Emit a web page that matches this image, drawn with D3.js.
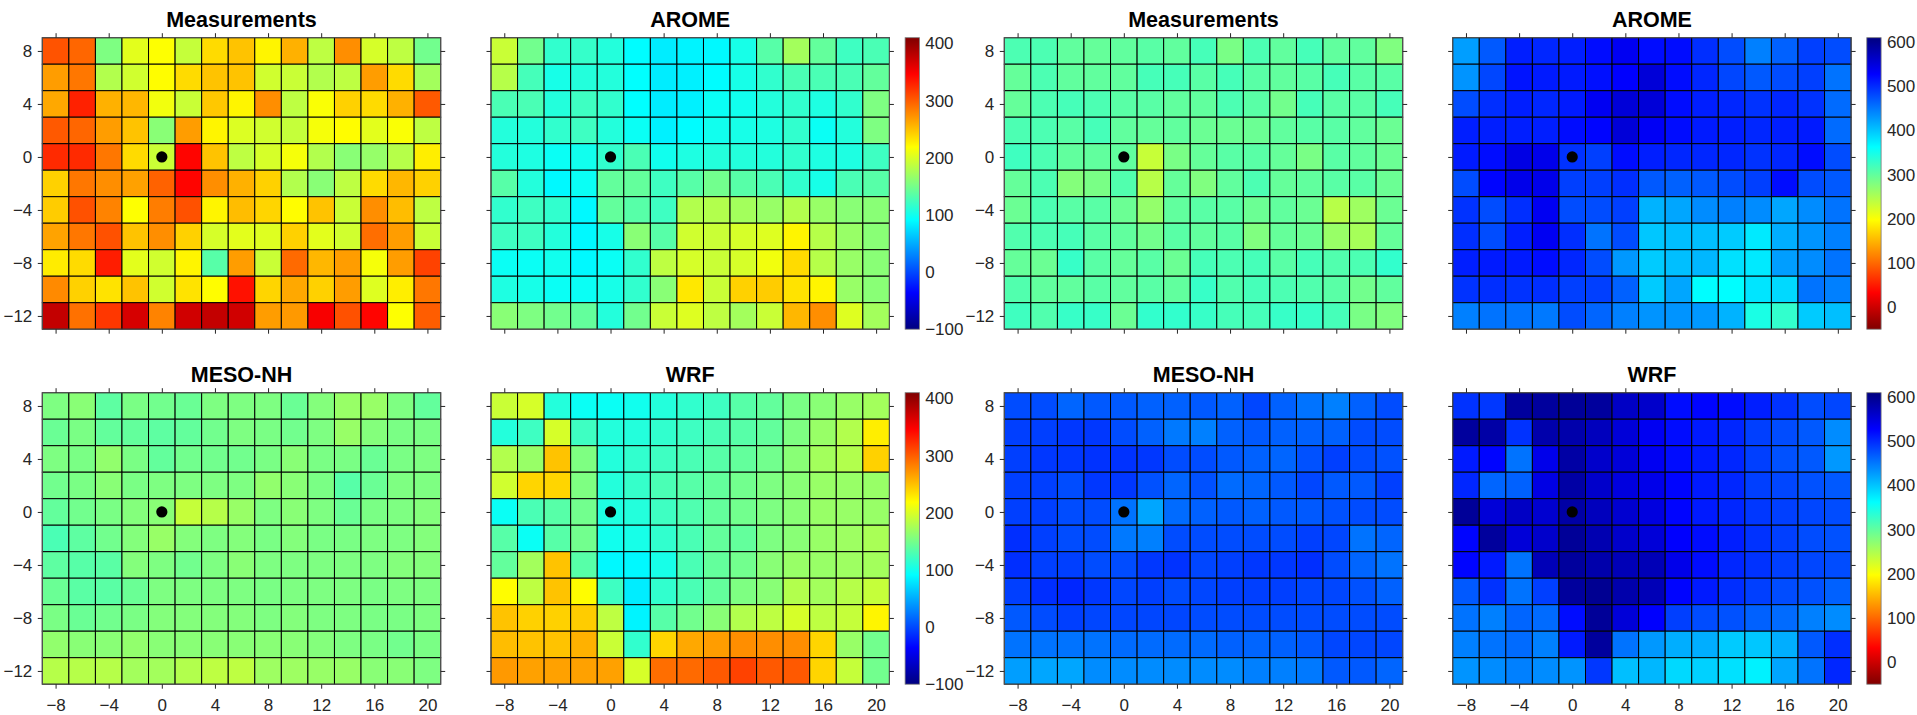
<!DOCTYPE html>
<html>
<head>
<meta charset="utf-8">
<script src="https://cdn.jsdelivr.net/npm/d3@7"></script>
<style>
  html, body { margin: 0; padding: 0; background: #ffffff; }
  svg { display: block; font-family: "Liberation Sans", Arial, Helvetica, sans-serif; }
</style>
</head>
<body>
<svg id="chart" width="1917" height="715"></svg>
<script>
// Grid coordinates (cell centres)
const xCats = [-8, -6, -4, -2, 0, 2, 4, 6, 8, 10, 12, 14, 16, 18, 20];
const yCats = [8, 6, 4, 2, 0, -2, -4, -6, -8, -10, -12];

// Tick labels
const xTicks = [-8, -4, 0, 4, 8, 12, 16, 20];
const yTicks = [-12, -8, -4, 0, 4, 8];
const barTicksLeft = [-100, 0, 100, 200, 300, 400];
const barTicksRight = [0, 100, 200, 300, 400, 500, 600];

// Colour limits
const climLeft = [-100, 410];
const climRight = [-50, 610];

// Panel titles
const titles = ["Measurements", "AROME", "MESO-NH", "WRF"];

// Left group (rows run from y = 8 down to y = -12)
const measLeft = [
  [305, 295, 154, 205, 218, 190, 237, 249, 224, 258, 186, 275, 198, 186, 148],
  [268, 287, 180, 195, 220, 237, 249, 249, 195, 192, 180, 186, 268, 237, 173],
  [262, 330, 258, 255, 212, 192, 246, 224, 275, 186, 216, 242, 237, 258, 302],
  [302, 295, 268, 249, 160, 268, 224, 201, 195, 190, 214, 220, 205, 216, 186],
  [325, 325, 287, 237, 192, 344, 249, 186, 198, 214, 180, 160, 166, 182, 227],
  [242, 287, 275, 266, 297, 344, 275, 258, 242, 180, 160, 186, 237, 255, 242],
  [244, 306, 281, 218, 284, 306, 224, 252, 240, 220, 249, 192, 275, 252, 186],
  [265, 287, 306, 249, 275, 242, 198, 205, 202, 242, 205, 195, 291, 268, 192],
  [228, 237, 332, 205, 195, 224, 135, 268, 192, 293, 255, 268, 214, 268, 313],
  [277, 242, 233, 249, 195, 233, 220, 338, 240, 262, 242, 268, 202, 227, 287],
  [376, 290, 319, 367, 281, 370, 376, 370, 268, 270, 350, 306, 344, 218, 300]
];
const aromeLeft = [
  [192, 148, 116, 118, 109, 90, 82, 86, 88, 103, 135, 173, 141, 122, 128],
  [182, 126, 103, 109, 109, 92, 82, 84, 90, 103, 116, 128, 128, 128, 141],
  [128, 128, 109, 122, 116, 91, 82, 84, 96, 100, 109, 116, 106, 116, 154],
  [109, 109, 116, 122, 109, 96, 84, 90, 100, 103, 106, 116, 96, 109, 154],
  [109, 106, 96, 100, 116, 128, 100, 106, 109, 109, 109, 116, 106, 106, 122],
  [135, 109, 88, 96, 141, 141, 122, 135, 148, 135, 128, 116, 103, 128, 135],
  [116, 122, 116, 88, 141, 135, 122, 180, 180, 173, 167, 180, 167, 160, 160],
  [122, 122, 109, 88, 103, 160, 135, 195, 192, 198, 202, 224, 182, 167, 160],
  [96, 96, 100, 88, 96, 116, 186, 198, 192, 198, 212, 237, 182, 167, 160],
  [106, 103, 96, 96, 103, 116, 160, 230, 192, 242, 244, 233, 224, 167, 160],
  [160, 154, 148, 141, 109, 148, 192, 202, 186, 173, 192, 255, 275, 202, 173]
];
const mesonhLeft = [
  [154, 160, 138, 152, 148, 144, 154, 154, 154, 144, 157, 167, 167, 154, 141],
  [144, 152, 141, 141, 138, 141, 148, 154, 152, 148, 154, 167, 157, 152, 152],
  [154, 152, 164, 152, 141, 148, 148, 148, 152, 160, 152, 152, 144, 152, 154],
  [148, 152, 160, 152, 154, 154, 154, 154, 164, 160, 152, 135, 144, 154, 154],
  [141, 148, 152, 157, 160, 190, 182, 167, 154, 160, 154, 144, 152, 154, 157],
  [128, 138, 148, 157, 167, 157, 154, 157, 152, 157, 152, 152, 154, 154, 157],
  [138, 135, 136, 157, 154, 148, 154, 160, 154, 154, 154, 154, 154, 157, 157],
  [144, 136, 136, 144, 154, 154, 154, 154, 152, 154, 154, 154, 152, 154, 154],
  [152, 144, 148, 152, 157, 157, 157, 157, 154, 157, 154, 154, 152, 152, 154],
  [164, 160, 160, 164, 160, 160, 160, 160, 160, 160, 157, 154, 152, 148, 152],
  [182, 182, 182, 173, 173, 180, 186, 186, 170, 170, 167, 167, 160, 160, 154]
];
const wrfLeft = [
  [192, 198, 109, 96, 96, 100, 109, 116, 122, 135, 141, 152, 160, 167, 173],
  [109, 122, 198, 122, 109, 109, 116, 122, 128, 135, 141, 154, 167, 180, 227],
  [180, 167, 249, 154, 109, 116, 122, 128, 135, 141, 148, 160, 173, 180, 242],
  [195, 240, 240, 154, 109, 118, 128, 135, 141, 148, 154, 160, 167, 167, 167],
  [96, 128, 135, 148, 106, 109, 122, 131, 141, 148, 154, 160, 167, 167, 167],
  [135, 96, 135, 148, 100, 103, 116, 128, 141, 141, 154, 160, 167, 170, 176],
  [141, 173, 249, 135, 88, 88, 103, 128, 141, 148, 160, 167, 167, 170, 173],
  [220, 186, 249, 220, 122, 82, 116, 128, 141, 154, 160, 180, 173, 182, 190],
  [249, 242, 242, 244, 186, 86, 135, 148, 160, 180, 186, 198, 186, 190, 224],
  [252, 249, 249, 258, 192, 116, 240, 262, 268, 275, 275, 275, 240, 167, 148],
  [270, 266, 266, 266, 266, 198, 291, 293, 302, 313, 302, 302, 240, 190, 148]
];

// Right group (rows run from y = 8 down to y = -12)
const measRight = [
  [313, 313, 300, 297, 300, 305, 300, 317, 284, 313, 300, 317, 300, 300, 280],
  [297, 313, 300, 300, 300, 317, 317, 305, 317, 305, 300, 305, 317, 305, 305],
  [297, 313, 317, 313, 305, 305, 300, 300, 313, 305, 289, 317, 305, 305, 317],
  [313, 313, 305, 317, 300, 297, 300, 293, 293, 293, 300, 305, 305, 300, 293],
  [322, 313, 300, 300, 300, 234, 284, 297, 305, 305, 297, 284, 305, 300, 293],
  [297, 313, 277, 284, 310, 244, 297, 280, 300, 313, 297, 300, 305, 305, 293],
  [293, 313, 305, 305, 293, 267, 300, 305, 305, 293, 300, 293, 244, 260, 293],
  [310, 313, 317, 305, 300, 289, 305, 300, 305, 280, 297, 293, 264, 255, 297],
  [297, 293, 327, 305, 297, 305, 293, 317, 313, 317, 305, 317, 310, 313, 330],
  [310, 300, 300, 305, 300, 305, 300, 327, 310, 317, 313, 310, 305, 289, 300],
  [322, 310, 327, 327, 293, 330, 330, 327, 317, 317, 327, 327, 317, 284, 280]
];
const aromeRight = [
  [425, 470, 508, 503, 508, 520, 536, 520, 520, 498, 478, 445, 465, 487, 478],
  [432, 482, 515, 511, 511, 518, 528, 553, 520, 503, 482, 470, 478, 487, 453],
  [478, 498, 508, 503, 511, 536, 553, 553, 520, 508, 503, 495, 503, 495, 458],
  [508, 508, 508, 508, 520, 525, 553, 534, 520, 511, 508, 503, 508, 511, 458],
  [511, 520, 545, 541, 495, 487, 520, 508, 503, 503, 503, 495, 503, 520, 478],
  [478, 525, 541, 541, 487, 487, 498, 470, 465, 470, 478, 487, 520, 478, 470],
  [495, 478, 498, 536, 478, 478, 487, 412, 420, 437, 445, 437, 420, 437, 453],
  [498, 478, 508, 536, 498, 453, 478, 399, 404, 404, 396, 376, 415, 432, 445],
  [508, 511, 511, 520, 503, 478, 429, 396, 404, 409, 382, 376, 425, 437, 453],
  [495, 498, 495, 498, 487, 487, 465, 396, 420, 363, 363, 379, 387, 453, 445],
  [445, 453, 453, 449, 478, 462, 445, 432, 432, 429, 412, 346, 330, 396, 404]
];
const mesonhRight = [
  [478, 478, 462, 470, 470, 465, 465, 470, 465, 482, 465, 453, 445, 465, 478],
  [487, 487, 492, 492, 478, 465, 449, 445, 465, 470, 465, 465, 465, 478, 478],
  [487, 492, 492, 495, 495, 492, 478, 478, 470, 465, 462, 475, 487, 478, 475],
  [487, 487, 478, 492, 492, 475, 462, 475, 458, 462, 470, 482, 470, 470, 487],
  [487, 487, 478, 478, 453, 420, 458, 465, 470, 465, 470, 470, 475, 478, 478],
  [498, 487, 478, 478, 449, 445, 478, 478, 478, 478, 478, 487, 482, 453, 462],
  [498, 487, 487, 478, 478, 492, 495, 482, 487, 492, 492, 498, 478, 462, 453],
  [487, 498, 503, 492, 482, 487, 478, 482, 487, 487, 487, 482, 482, 475, 465],
  [470, 478, 487, 482, 482, 482, 482, 478, 478, 478, 478, 478, 478, 478, 478],
  [453, 453, 453, 453, 458, 458, 458, 458, 465, 462, 465, 470, 482, 482, 482],
  [425, 420, 420, 437, 437, 437, 437, 437, 437, 445, 445, 449, 470, 470, 462]
];
const wrfRight = [
  [495, 492, 591, 591, 594, 591, 565, 561, 520, 525, 520, 508, 495, 478, 482],
  [591, 585, 495, 582, 582, 570, 553, 536, 520, 511, 503, 487, 478, 470, 437],
  [511, 525, 453, 541, 586, 561, 553, 536, 520, 511, 503, 487, 475, 470, 429],
  [503, 462, 465, 545, 586, 561, 548, 541, 525, 511, 503, 487, 482, 475, 470],
  [594, 553, 565, 558, 586, 570, 558, 548, 525, 511, 503, 492, 487, 482, 478],
  [525, 591, 553, 561, 594, 578, 561, 553, 528, 520, 508, 495, 487, 478, 475],
  [525, 511, 453, 574, 591, 582, 574, 574, 541, 520, 503, 495, 487, 482, 478],
  [470, 495, 453, 487, 591, 598, 582, 574, 525, 511, 498, 487, 478, 475, 465],
  [453, 445, 462, 458, 520, 594, 553, 528, 487, 478, 475, 465, 458, 445, 437],
  [445, 453, 458, 445, 511, 591, 453, 429, 415, 415, 396, 399, 415, 470, 498],
  [432, 437, 445, 437, 432, 492, 404, 409, 387, 392, 382, 371, 420, 453, 503]
];

// MATLAB-style jet colormap, t in [0, 1]
function jet(t) {
  t = Math.max(0, Math.min(1, t));
  const c = v => Math.max(0, Math.min(1, v));
  const r = c(Math.min(4 * t - 1.5, -4 * t + 4.5));
  const g = c(Math.min(4 * t - 0.5, -4 * t + 3.5));
  const b = c(Math.min(4 * t + 0.5, -4 * t + 2.5));
  return d3.rgb(r * 255, g * 255, b * 255).formatHex();
}

function makeColor(clim, reversed) {
  const norm = d3.scaleLinear().domain(clim).range(reversed ? [1, 0] : [0, 1]).clamp(true);
  return v => jet(norm(v));
}

const PW = 398.4;          // plot width
const lefts = [42.3, 491, 1004.3, 1452.7];
const tops = [37.7, 392.7];
const PH = 291.5;          // plot height

const panels = [
  { title: titles[0], data: measLeft,    col: 0, row: 0, clim: climLeft,  rev: false, yLab: true,  xLab: false, bar: null },
  { title: titles[1], data: aromeLeft,   col: 1, row: 0, clim: climLeft,  rev: false, yLab: false, xLab: false, bar: barTicksLeft },
  { title: titles[0], data: measRight,   col: 2, row: 0, clim: climRight, rev: true,  yLab: true,  xLab: false, bar: null },
  { title: titles[1], data: aromeRight,  col: 3, row: 0, clim: climRight, rev: true,  yLab: false, xLab: false, bar: barTicksRight },
  { title: titles[2], data: mesonhLeft,  col: 0, row: 1, clim: climLeft,  rev: false, yLab: true,  xLab: true,  bar: null },
  { title: titles[3], data: wrfLeft,     col: 1, row: 1, clim: climLeft,  rev: false, yLab: false, xLab: true,  bar: barTicksLeft },
  { title: titles[2], data: mesonhRight, col: 2, row: 1, clim: climRight, rev: true,  yLab: true,  xLab: true,  bar: null },
  { title: titles[3], data: wrfRight,    col: 3, row: 1, clim: climRight, rev: true,  yLab: false, xLab: true,  bar: barTicksRight }
];

const svg = d3.select("#chart");
const defs = svg.append("defs");
const tickColor = "#262626";
const tickFont = 17;

function styleAxis(g) {
  g.select(".domain").remove();
  g.selectAll(".tick line").attr("stroke", tickColor).attr("stroke-width", 1);
  g.selectAll(".tick text").attr("fill", tickColor).attr("font-size", tickFont).attr("font-family", null);
}

panels.forEach((p, i) => {
  const x0 = lefts[p.col], y0 = tops[p.row];
  const x = d3.scaleLinear().domain([-9, 21]).range([x0, x0 + PW]);
  const y = d3.scaleLinear().domain([-13, 9]).range([y0 + PH, y0]);
  const color = makeColor(p.clim, p.rev);
  const g = svg.append("g");

  // cells
  const cells = [];
  p.data.forEach((rowVals, ri) => rowVals.forEach((v, ci) => cells.push({ x: xCats[ci], y: yCats[ri], v })));
  g.append("g").selectAll("rect").data(cells).join("rect")
    .attr("x", d => x(d.x - 1))
    .attr("y", d => y(d.y + 1))
    .attr("width", d => x(d.x + 1) - x(d.x - 1))
    .attr("height", d => y(d.y - 1) - y(d.y + 1))
    .attr("fill", d => color(d.v))
    .attr("stroke", "#000")
    .attr("stroke-width", 1);

  // axis box
  g.append("rect")
    .attr("x", x(-9)).attr("y", y(9))
    .attr("width", x(21) - x(-9)).attr("height", y(-13) - y(9))
    .attr("fill", "none").attr("stroke", "#5a5a5a").attr("stroke-width", 1);

  // ticks on all four sides, pointing outward
  const fmt = d3.format("d");
  g.append("g").attr("transform", `translate(0,${y(-13)})`)
    .call(d3.axisBottom(x).tickValues(xTicks).tickSizeInner(4.5).tickSizeOuter(0).tickPadding(10.4)
      .tickFormat(p.xLab ? fmt : () => ""))
    .call(styleAxis);
  g.append("g").attr("transform", `translate(0,${y(9)})`)
    .call(d3.axisTop(x).tickValues(xTicks).tickSizeInner(4.5).tickSizeOuter(0).tickFormat(() => ""))
    .call(styleAxis);
  g.append("g").attr("transform", `translate(${x(-9)},0)`)
    .call(d3.axisLeft(y).tickValues(yTicks).tickSizeInner(4.5).tickSizeOuter(0).tickPadding(5.5)
      .tickFormat(p.yLab ? fmt : () => ""))
    .call(styleAxis);
  g.append("g").attr("transform", `translate(${x(21)},0)`)
    .call(d3.axisRight(y).tickValues(yTicks).tickSizeInner(4.5).tickSizeOuter(0).tickFormat(() => ""))
    .call(styleAxis);

  // origin marker
  g.append("circle").attr("cx", x(0)).attr("cy", y(0)).attr("r", 5.6).attr("fill", "#000");

  // title
  g.append("text")
    .attr("x", x0 + PW / 2).attr("y", y0 - 10.8)
    .attr("text-anchor", "middle")
    .attr("font-size", 21.5).attr("font-weight", "bold").attr("fill", "#000")
    .text(p.title);

  // colour bar
  if (p.bar) {
    const bx = x0 + PW + 15.7, bw = 14.3;
    const cb = d3.scaleLinear().domain(p.clim).range([y0 + PH, y0]);
    const gid = "grad" + i;
    const grad = defs.append("linearGradient").attr("id", gid)
      .attr("x1", 0).attr("y1", 1).attr("x2", 0).attr("y2", 0);
    d3.range(0, 1.0001, 1 / 64).forEach(t => {
      const v = p.clim[0] + t * (p.clim[1] - p.clim[0]);
      grad.append("stop").attr("offset", t).attr("stop-color", color(v));
    });
    g.append("rect").attr("x", bx).attr("y", y0).attr("width", bw).attr("height", PH)
      .attr("fill", `url(#${gid})`).attr("stroke", "#7a7a7a").attr("stroke-width", 0.8);
    g.append("g").attr("transform", `translate(${bx + bw},0)`)
      .call(d3.axisRight(cb).tickValues(p.bar).tickSizeInner(0).tickSizeOuter(0).tickPadding(5.8).tickFormat(fmt))
      .call(styleAxis);
  }
});
</script>
</body>
</html>
